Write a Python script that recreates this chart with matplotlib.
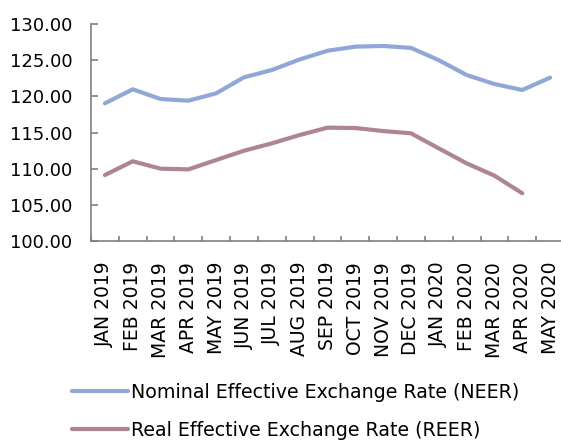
import matplotlib
matplotlib.use("Agg")
import matplotlib.pyplot as plt
import numpy as np

months = ["JAN 2019", "FEB 2019", "MAR 2019", "APR 2019", "MAY 2019", "JUN 2019",
          "JUL 2019", "AUG 2019", "SEP 2019", "OCT 2019", "NOV 2019", "DEC 2019",
          "JAN 2020", "FEB 2020", "MAR 2020", "APR 2020", "MAY 2020"]
neer = [119.03, 120.97, 119.63, 119.4, 120.42, 122.63, 123.64, 125.1, 126.3,
        126.87, 126.96, 126.7, 125.0, 122.95, 121.7, 120.88, 122.58]
reer = [109.12, 111.02, 110.0, 109.9, 111.2, 112.48, 113.5, 114.65, 115.67,
        115.62, 115.2, 114.89, 112.8, 110.74, 109.03, 106.6, np.nan]

plt.rcParams['font.family'] = ['DejaVu Sans']
fig = plt.figure(figsize=(5.61, 4.40), dpi=100)
ax = fig.add_axes([91/561, 1-241/440, 473/561, 217/440])

x = np.arange(len(months))
ax.plot(x, neer, color='#8fa8d8', lw=3, solid_capstyle='round',
        label='Nominal Effective Exchange Rate (NEER)')
ax.plot(x, reer, color='#b08497', lw=3, solid_capstyle='round',
        label='Real Effective Exchange Rate (REER)')

ax.set_xlim(-0.5, len(months) - 0.5)
ax.set_ylim(100, 130)
ax.set_yticks(np.arange(100, 131, 5))
ax.set_yticklabels(['%.2f' % v for v in np.arange(100, 131, 5)], fontsize=13)
ax.tick_params(axis='y', direction='in', length=5, width=1.2, color='#808080', pad=13.5)

ax.set_xticks(np.arange(-0.5, len(months)))
ax.set_xticklabels([])
ax.tick_params(axis='x', which='major', direction='in', length=3.6, width=1.2, color='#808080')
ax.set_xticks(x, minor=True)
ax.set_xticklabels(months, minor=True, rotation=90, fontsize=13.5)
ax.tick_params(axis='x', which='minor', length=0, pad=15)

for s in ['top', 'right']:
    ax.spines[s].set_visible(False)
for s in ['left', 'bottom']:
    ax.spines[s].set_color('#808080')
    ax.spines[s].set_linewidth(1.2)

fig.legend(loc='upper left', bbox_to_anchor=(72/561, 1-383/440), frameon=False,
           fontsize=13.7, handlelength=2.95, handletextpad=0.15, labelspacing=1.0,
           borderpad=0, borderaxespad=0)

fig.savefig('out.png', dpi=100)
